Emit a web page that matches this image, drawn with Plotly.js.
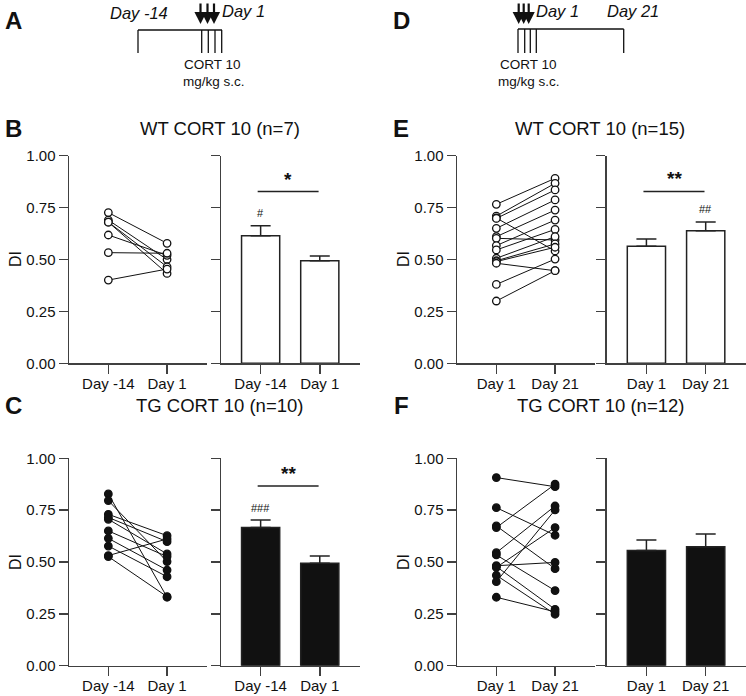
<!DOCTYPE html>
<html><head><meta charset="utf-8">
<script src="https://cdn.plot.ly/plotly-3.0.1.min.js"></script>
<style>html,body{margin:0;padding:0;background:#fff}#chart{width:746px;height:696px}</style>
</head><body><div id="chart"></div>
<script>
// ---------------- DATA ----------------
const catsBC = ['Day -14', 'Day 1'];
const catsEF = ['Day 1', 'Day 21'];
const yTickVals = [0, 0.25, 0.5, 0.75, 1];
const yTickText = ['0.00', '0.25', '0.50', '0.75', '1.00'];

// B: WT CORT 10 (n=7)
const wtB_day14 = [0.726, 0.690, 0.680, 0.680, 0.618, 0.533, 0.401];
const wtB_day1  = [0.578, 0.500, 0.465, 0.433, 0.520, 0.530, 0.454];
const wtB_mean  = [0.615, 0.494];
const wtB_sem   = [0.047, 0.023];

// C: TG CORT 10 (n=10)
const tgC_day14 = [0.828, 0.796, 0.730, 0.715, 0.706, 0.650, 0.614, 0.577, 0.531, 0.526];
const tgC_day1  = [0.330, 0.502, 0.627, 0.598, 0.539, 0.526, 0.461, 0.429, 0.611, 0.333];
const tgC_mean  = [0.666, 0.494];
const tgC_sem   = [0.037, 0.035];

// E: WT CORT 10 (n=15)
const wtE_day1  = [0.766, 0.709, 0.700, 0.698, 0.650, 0.610, 0.602, 0.567, 0.546, 0.506, 0.494, 0.490, 0.482, 0.380, 0.300];
const wtE_day21 = [0.891, 0.867, 0.541, 0.835, 0.787, 0.738, 0.594, 0.690, 0.645, 0.610, 0.575, 0.559, 0.446, 0.502, 0.446];
const wtE_mean  = [0.564, 0.639];
const wtE_sem   = [0.035, 0.042];

// F: TG CORT 10 (n=12)
const tgF_day1  = [0.907, 0.762, 0.674, 0.666, 0.545, 0.534, 0.482, 0.478, 0.474, 0.436, 0.405, 0.330];
const tgF_day21 = [0.863, 0.629, 0.468, 0.875, 0.770, 0.362, 0.498, 0.272, 0.666, 0.248, 0.751, 0.260];
const tgF_mean  = [0.555, 0.574];
const tgF_sem   = [0.051, 0.061];

// significance markers for bar panels B, E, C
const sigLineY  = [0.828, 0.827, 0.867];
const sigStars  = ['*', '**', '**'];
const sigStarY  = [0.885, 0.888, 0.925];
const hashText  = ['#', '##', '###'];
const hashBar   = [0, 1, 0];
const hashY     = [0.726, 0.743, 0.762];

// ---------------- STYLE ----------------
const W = 746, H = 696;
const FONT = 'Liberation Sans, Arial, Helvetica, sans-serif';
const INK = '#111111';
const AXC = '#404040';
const px = v => v / W;
const py = v => 1 - v / H;

const rowDom = [[py(363.3), py(155.7)], [py(665.7), py(458.3)]];
const colDom = [[px(69), px(207)], [px(221), px(360)], [px(457), px(595)], [px(606.7), px(746)]];
const XR = [-0.67, 1.68];

const traces = [];
const layout = {
  width: W, height: H, margin: {l: 0, r: 0, t: 0, b: 0},
  paper_bgcolor: '#ffffff', plot_bgcolor: 'rgba(0,0,0,0)',
  showlegend: false, font: {family: FONT, color: INK},
  shapes: [], annotations: []
};

function axName(k) { return k === 1 ? '' : String(k); }

function setAxes(k, row, col, cats, labels) {
  const n = axName(k);
  layout['xaxis' + n] = {
    domain: colDom[col], anchor: 'y' + n, type: 'category', categoryarray: cats,
    range: XR, showline: true, linecolor: AXC, linewidth: 1.5,
    ticks: 'outside', ticklen: 9, tickwidth: 1.5, tickcolor: AXC,
    ticklabelstandoff: -3,
    showgrid: false, zeroline: false, fixedrange: true,
    tickfont: {family: FONT, size: 15, color: INK}
  };
  layout['yaxis' + n] = {
    domain: rowDom[row], anchor: 'x' + n, range: [0, 1],
    tickvals: yTickVals, ticktext: yTickText, showticklabels: labels,
    showline: true, linecolor: AXC, linewidth: 1.5,
    ticks: 'outside', ticklen: 9, tickwidth: 1.5, tickcolor: AXC,
    showgrid: false, zeroline: false, fixedrange: true,
    tickfont: {family: FONT, size: 15, color: INK}
  };
}

function pairTrace(k, cats, pre, post, filled) {
  const x = [], y = [];
  pre.forEach((v, i) => { x.push(cats[0], cats[1], null); y.push(v, post[i], null); });
  const n = axName(k);
  traces.push({
    type: 'scatter', mode: 'lines+markers', x, y, xaxis: 'x' + n, yaxis: 'y' + n,
    connectgaps: false, cliponaxis: false, hoverinfo: 'skip',
    line: {color: INK, width: 1},
    marker: {size: 7.5, color: filled ? INK : '#ffffff', line: {color: INK, width: 1.3}}
  });
}

function barTrace(k, cats, mean, sem, filled) {
  const n = axName(k);
  traces.push({
    type: 'bar', x: cats, y: mean, xaxis: 'x' + n, yaxis: 'y' + n, width: 0.645,
    hoverinfo: 'skip',
    marker: {color: filled ? INK : '#ffffff', line: {color: '#222222', width: 1.5}},
    error_y: {type: 'data', symmetric: false, array: sem, arrayminus: mean.map(() => 0),
              color: '#222222', thickness: 1.5, width: 10}
  });
}

// Panels
setAxes(1, 0, 0, catsBC, true);  pairTrace(1, catsBC, wtB_day14, wtB_day1, false);
setAxes(2, 0, 1, catsBC, false); barTrace(2, catsBC, wtB_mean, wtB_sem, false);
setAxes(3, 0, 2, catsEF, true);  pairTrace(3, catsEF, wtE_day1, wtE_day21, false);
setAxes(4, 0, 3, catsEF, false); barTrace(4, catsEF, wtE_mean, wtE_sem, false);
setAxes(5, 1, 0, catsBC, true);  pairTrace(5, catsBC, tgC_day14, tgC_day1, true);
setAxes(6, 1, 1, catsBC, false); barTrace(6, catsBC, tgC_mean, tgC_sem, true);
setAxes(7, 1, 2, catsEF, true);  pairTrace(7, catsEF, tgF_day1, tgF_day21, true);
setAxes(8, 1, 3, catsEF, false); barTrace(8, catsEF, tgF_mean, tgF_sem, true);

// significance annotations on bar panels B(2), E(4), C(6)
const sigAxes = [2, 4, 6];
sigAxes.forEach((k, i) => {
  const n = axName(k);
  layout.shapes.push({type: 'line', xref: 'x' + n, yref: 'y' + n,
    x0: -0.05, x1: 0.98, y0: sigLineY[i], y1: sigLineY[i], line: {color: '#222222', width: 1.5}});
  layout.annotations.push({xref: 'x' + n, yref: 'y' + n, x: 0.47, y: sigStarY[i],
    text: '<b>' + sigStars[i] + '</b>', showarrow: false, font: {size: 19, color: INK}});
  layout.annotations.push({xref: 'x' + n, yref: 'y' + n, x: hashBar[i], y: hashY[i],
    text: hashText[i], showarrow: false, font: {size: 11, color: INK}});
});

// Panel labels, titles, DI labels
function txt(x, y, text, size, opts) {
  layout.annotations.push(Object.assign({xref: 'paper', yref: 'paper', x: px(x), y: py(y),
    text, showarrow: false, xanchor: 'center', yanchor: 'middle',
    font: {family: FONT, size, color: INK}}, opts || {}));
}
txt(14, 21, '<b>A</b>', 24);
txt(401, 21, '<b>D</b>', 24);
txt(14, 128, '<b>B</b>', 24);
txt(401, 128, '<b>E</b>', 24);
txt(14, 405, '<b>C</b>', 24);
txt(401, 405, '<b>F</b>', 24);
txt(220, 128, 'WT CORT 10 (n=7)', 18.5);
txt(600, 128, 'WT CORT 10 (n=15)', 18.5);
txt(220, 405, 'TG CORT 10 (n=10)', 18.5);
txt(600, 405, 'TG CORT 10 (n=12)', 18.5);
[[15, 259], [403, 259], [15, 562], [403, 562]].forEach(p => txt(p[0], p[1], 'DI', 16, {textangle: -90}));

// ---------------- schematic timelines ----------------
function seg(x0, y0, x1, y1) {
  layout.shapes.push({type: 'line', xref: 'paper', yref: 'paper',
    x0: px(x0), y0: py(y0), x1: px(x1), y1: py(y1), line: {color: INK, width: 1.3}});
}
function arrow(x) {
  layout.annotations.push({xref: 'paper', yref: 'paper', x: px(x), y: py(24), ax: 0, ay: -22,
    text: '', showarrow: true, arrowhead: 2, arrowsize: 1.1, arrowwidth: 2.2, arrowcolor: INK});
}
// A
seg(138, 30, 222, 30); seg(138, 30, 138, 53);
[201.7, 208.3, 215, 221.7].forEach(x => seg(x, 30, x, 53));
[200.5, 207.5, 214].forEach(arrow);
txt(139, 13, '<i>Day -14</i>', 16.5);
txt(243, 11, '<i>Day 1</i>', 16.5);
txt(212, 65, 'CORT 10', 13.5);
txt(214, 81, 'mg/kg s.c.', 13.5);
// D
seg(518, 29, 623.7, 29); seg(623.7, 29, 623.7, 53);
[518, 524.7, 530.3, 536.3].forEach(x => seg(x, 29, x, 53));
[518.7, 523.7, 528.7].forEach(arrow);
txt(557, 11, '<i>Day 1</i>', 16.5);
txt(633, 11, '<i>Day 21</i>', 16.5);
txt(528, 65, 'CORT 10', 13.5);
txt(529, 81, 'mg/kg s.c.', 13.5);

Plotly.newPlot('chart', traces, layout, {displayModeBar: false, staticPlot: true});
</script></body></html>
